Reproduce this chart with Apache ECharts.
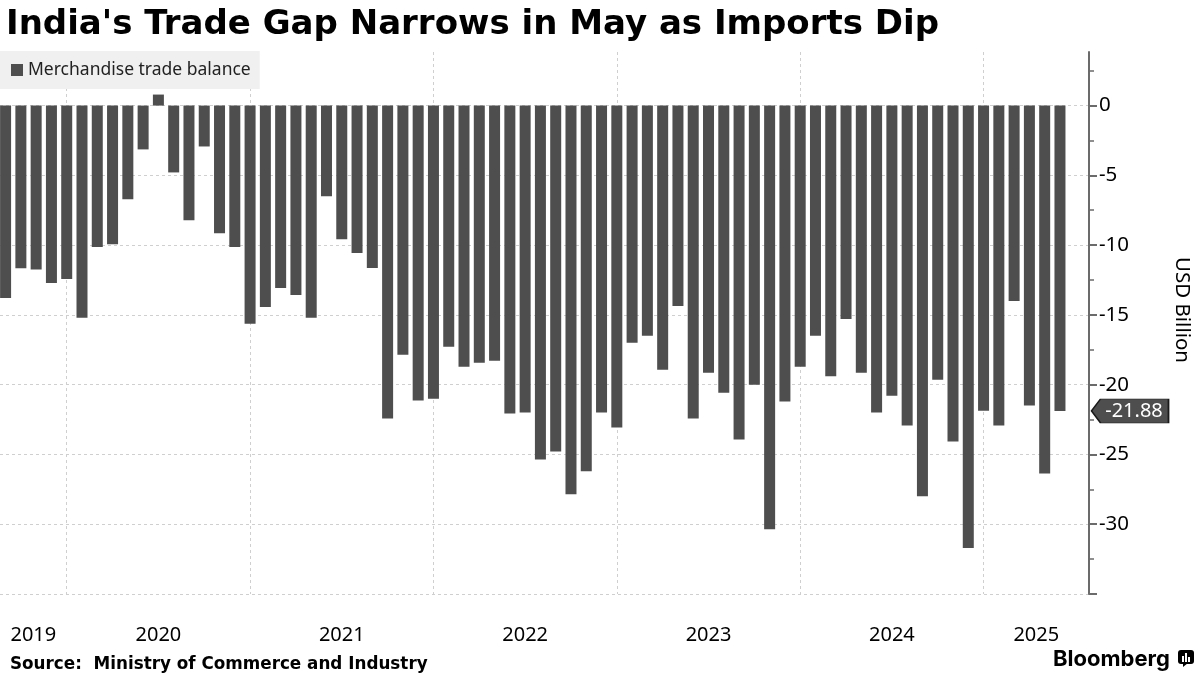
<!DOCTYPE html>
<html>
<head>
<meta charset="utf-8">
<script src="https://cdn.jsdelivr.net/npm/echarts@6/dist/echarts.min.js"></script>
<style>
html,body{margin:0;padding:0;background:#fff;}
#chart{width:1200px;height:675px;}
</style>
</head>
<body>
<div id="chart"></div>
<script>
// ---- data ----
const chartTitle = "India's Trade Gap Narrows in May as Imports Dip";
const sourceText = 'Source:  Ministry of Commerce and Industry';
const seriesName = 'Merchandise trade balance';
const unitName = 'USD Billion';
const startYear = 2019;
const startMonth = 8; // Aug 2019
const monthNames = ['Jan','Feb','Mar','Apr','May','Jun','Jul','Aug','Sep','Oct','Nov','Dec'];
// Monthly merchandise trade balance, USD billion, Aug 2019 .. May 2025
const tradeBalance = [
  -13.79, -11.66, -11.74, -12.71, -12.43,                                   // 2019 Aug-Dec
  -15.21, -10.14, -9.93, -6.71, -3.14, 0.79, -4.79, -8.21, -2.93, -9.14, -10.14, -15.64, // 2020
  -14.43, -13.07, -13.57, -15.21, -6.50, -9.57, -10.57, -11.64, -22.43, -17.86, -21.14, -21.00, // 2021
  -17.29, -18.71, -18.43, -18.29, -22.07, -22.00, -25.36, -24.79, -27.86, -26.21, -22.00, -23.07, // 2022
  -17.00, -16.50, -18.93, -14.36, -22.43, -19.14, -20.57, -23.93, -20.00, -30.36, -21.21, -18.71, // 2023
  -16.50, -19.40, -15.29, -19.14, -22.00, -20.79, -22.93, -28.00, -19.64, -24.07, -31.71, -21.86, // 2024
  -22.93, -14.00, -21.50, -26.36, -21.88                                     // 2025 Jan-May
];
const years = [2019, 2020, 2021, 2022, 2023, 2024, 2025];
const yTickLabels = [0, -5, -10, -15, -20, -25, -30];
const yMajorTicks = [0, -5, -10, -15, -20, -25, -30, -35];
const yMinorTicks = [2.5, -2.5, -7.5, -12.5, -17.5, -22.5, -27.5, -32.5];

// ---- derived ----
// x = months counted from Jan of startYear (month-end convention: Dec bar sits on the year boundary)
const monthX = tradeBalance.map((v, i) => startMonth + i);
const monthLabels = monthX.map(m => monthNames[(m - 1) % 12] + ' ' + (startYear + Math.floor((m - 1) / 12)));
const X_MIN = monthX[0] - 0.366;
const X_MAX = monthX[monthX.length - 1] + 1.9;
const Y_MIN = -35;
const Y_MAX = 3.84;
const yearBounds = years.map(y => (y - startYear) * 12).filter(v => v > X_MIN && v < X_MAX);
const yearCenters = years.map(y => {
  const a = Math.max((y - startYear) * 12, X_MIN);
  const b = Math.min((y - startYear + 1) * 12, X_MAX);
  return (a + b) / 2;
});
const barData = monthX.map((x, i) => ({ value: [x, tradeBalance[i]], name: monthLabels[i] }));
const lastValue = tradeBalance[tradeBalance.length - 1];

const gridLine = { color: '#cfcfcf', width: 1, type: [3, 3] };
const axisGrey = '#6b6b6b';

const chart = echarts.init(document.getElementById('chart'), null, { renderer: 'canvas' });
chart.setOption({
  animation: false,
  backgroundColor: '#ffffff',
  title: [
    { text: chartTitle, left: 1, top: 3,
      textStyle: { fontFamily: 'DejaVu Sans', fontWeight: 'bold', fontSize: 34, color: '#000' } },
    { text: sourceText, left: 5, top: 651,
      textStyle: { fontFamily: 'DejaVu Sans', fontWeight: 'bold', fontSize: 16.8, color: '#000' } },
    { text: 'Bloomberg', left: 1048, top: 643,
      textStyle: { fontFamily: 'Inter', fontWeight: 'bold', fontSize: 22, color: '#000' } }
  ],
  legend: {
    left: 0, top: 51,
    padding: [10, 9, 10, 11],
    backgroundColor: '#f0f0f0',
    itemWidth: 12, itemHeight: 12,
    icon: 'rect',
    selectedMode: false,
    textStyle: { fontFamily: 'Noto Sans', fontSize: 17.5, color: '#222' },
    data: [seriesName]
  },
  grid: { left: 0, right: 110.5, top: 52, bottom: 81 },
  xAxis: {
    type: 'value', min: X_MIN, max: X_MAX,
    axisLine: { show: false },
    axisTick: { show: false, customValues: yearBounds },
    splitLine: { show: true, customValues: yearBounds, lineStyle: gridLine },
    axisLabel: {
      customValues: yearCenters,
      formatter: v => String(startYear + Math.floor(v / 12)),
      fontFamily: 'Noto Sans', fontSize: 20, color: '#000', margin: 31
    }
  },
  yAxis: [
    {
      type: 'value', position: 'right', min: Y_MIN, max: Y_MAX,
      axisLine: { show: true, lineStyle: { color: axisGrey, width: 2 } },
      axisTick: { show: true, customValues: yMajorTicks, length: 8, lineStyle: { color: axisGrey, width: 2 } },
      splitLine: { show: true, customValues: yMajorTicks, lineStyle: gridLine },
      axisLabel: { customValues: yTickLabels, margin: 10, fontFamily: 'Noto Sans', fontSize: 20.5, color: '#000' },
      name: unitName, nameLocation: 'middle', nameRotate: -90, nameGap: 82,
      nameTextStyle: { fontFamily: 'Noto Sans', fontSize: 20.5, color: '#000', padding: [0, 26, 0, 0] }
    },
    {
      type: 'value', position: 'right', min: Y_MIN, max: Y_MAX,
      axisLine: { show: false },
      axisTick: { show: true, customValues: yMinorTicks, length: 5, lineStyle: { color: axisGrey, width: 1.5 } },
      splitLine: { show: false },
      axisLabel: { show: false }
    }
  ],
  series: [{
    type: 'bar', name: seriesName, data: barData,
    barWidth: 11,
    itemStyle: { color: '#4e4e4e' },
    markPoint: {
      silent: true,
      symbol: 'path://M0,12L9,0L77,0L77,24L9,24Z',
      symbolSize: [77, 24],
      symbolOffset: [41, 0],
      itemStyle: { color: '#4e4e4e', borderColor: '#1a1a1a', borderWidth: 1 },
      label: { show: true, position: 'inside', offset: [4, 0], color: '#fff',
               fontFamily: 'Noto Sans', fontSize: 20, formatter: () => lastValue.toFixed(2) },
      data: [{ coord: [X_MAX, lastValue] }]
    }
  }],
  graphic: [{
    type: 'group', left: 1178, top: 650, silent: true,
    children: [
      { type: 'rect', shape: { x: 0, y: 0, width: 16, height: 14, r: 3 }, style: { fill: '#000' } },
      { type: 'polygon', shape: { points: [[5, 13], [10, 13], [5, 17]] }, style: { fill: '#000' } },
      { type: 'rect', shape: { x: 4, y: 6, width: 2, height: 6 }, style: { fill: '#fff' } },
      { type: 'rect', shape: { x: 7, y: 3, width: 2, height: 9 }, style: { fill: '#fff' } },
      { type: 'rect', shape: { x: 10, y: 7, width: 2, height: 5 }, style: { fill: '#fff' } }
    ]
  }]
});
</script>
</body>
</html>
